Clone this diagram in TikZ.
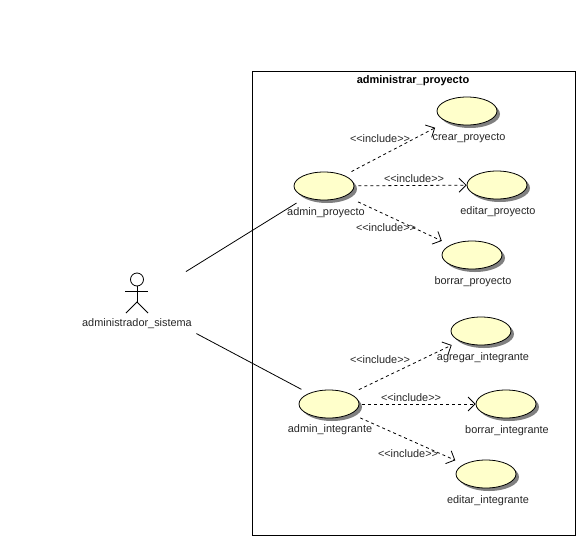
\documentclass[tikz,border=0pt]{standalone}
\usepackage{fontspec}
\setmainfont{Liberation Sans}
\usepackage{tikz}
\usetikzlibrary{arrows.meta,shapes.geometric,shadows}
\definecolor{ucfill}{HTML}{FFFFCB}
\tikzset{
    usecase/.style={ellipse, draw, fill=ucfill, minimum width=60pt, minimum height=28pt,
        inner sep=0pt, drop shadow={shadow xshift=3pt, shadow yshift=-3pt, fill=gray, opacity=1}},
    uclabel/.style={font=\fontsize{10.9}{12}\selectfont, text=black!85, inner sep=0pt},
    include/.style={dash pattern=on 3pt off 3pt, -{Straight Barb[length=7pt,width=14pt]}},
}
\begin{document}
\begin{tikzpicture}[x=1pt,y=-1pt,line width=0.8pt]
        \useasboundingbox (0,0) rectangle (587,547);
        \draw (252.5,71.5) rectangle (575.5,535.5);
        \node [uclabel, font=\fontsize{11}{12}\selectfont\bfseries, text=black] (titulo) at (413,80.5) {administrar\_proyecto};
        % casos de uso
        \node [usecase] (crear) at (467,111) {};
        \node [usecase] (editar) at (497,185) {};
        \node [usecase] (borrar) at (472,255) {};
        \node [usecase] (adminp) at (324,186) {};
        \node [usecase] (agregar) at (481,331) {};
        \node [usecase] (borrari) at (506,404) {};
        \node [usecase] (editari) at (486,474) {};
        \node [usecase] (admini) at (329,404) {};
        \node [uclabel] (crearlabel) at (469,138) {crear\_proyecto};
        \node [uclabel] (editarlabel) at (498,212) {editar\_proyecto};
        \node [uclabel] (borrarlabel) at (473,282) {borrar\_proyecto};
        \node [uclabel] (adminplabel) at (326,213) {admin\_proyecto};
        \node [uclabel] (agregarlabel) at (483,358) {agregar\_integrante};
        \node [uclabel] (borrarilabel) at (507,431) {borrar\_integrante};
        \node [uclabel] (editarilabel) at (488,501) {editar\_integrante};
        \node [uclabel] (adminilabel) at (330,430) {admin\_integrante};
        % actor
        \draw (137,279.5) circle (6.5);
        \draw (137,286) -- (137,302);
        \draw (125,291) -- (148,291);
        \draw (126,313) -- (137,302) -- (148,313);
        \node [uclabel] (actorlabel) at (137,323.5) {administrador\_sistema};
        \node [minimum width=130pt, minimum height=60pt] (actor) at (137,302) {};
        \draw [shorten >=10.7pt] (actor) -- (adminp);
        \draw [shorten <=2.5pt, shorten >=8.4pt] (actor) -- (admini);
        % includes
        \draw [include, shorten <=8pt, shorten >=13pt] (adminp) -- (crear);
        \draw [include, shorten <=4pt] (adminp) -- (editar);
        \draw [include, shorten <=13.7pt, shorten >=9.4pt] (adminp) -- (borrar);
        \draw [include, shorten <=9.5pt, shorten >=8.8pt] (admini) -- (agregar);
        \draw [include, shorten <=3pt] (admini) -- (borrari);
        \draw [include, shorten <=10pt, shorten >=9.4pt] (admini) -- (editari);
        \node [uclabel] (inc1) at (380,139) {<{}<include>{}>};
        \node [uclabel] (inc2) at (414,179) {<{}<include>{}>};
        \node [uclabel] (inc3) at (386,228) {<{}<include>{}>};
        \node [uclabel] (inc4) at (380,360) {<{}<include>{}>};
        \node [uclabel] (inc5) at (411,398) {<{}<include>{}>};
        \node [uclabel] (inc6) at (408,454) {<{}<include>{}>};
    \end{tikzpicture}
\end{document}
